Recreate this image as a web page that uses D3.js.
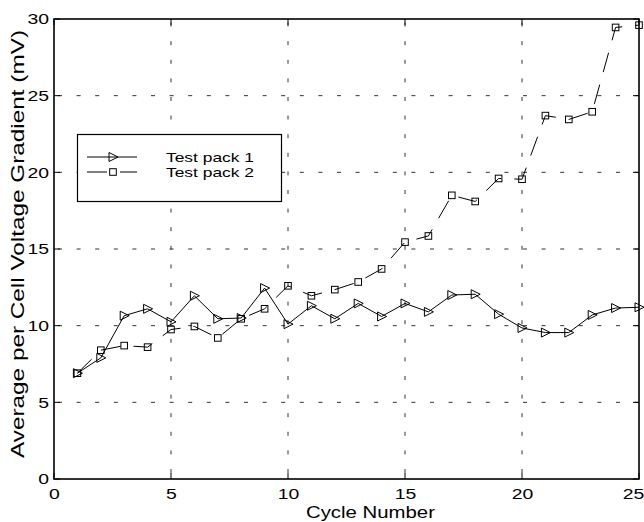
<!DOCTYPE html>
<html><head><meta charset="utf-8">
<script src="https://cdn.jsdelivr.net/npm/d3@7"></script>
<style>body{margin:0;background:#fff}svg{display:block}</style>
</head><body><svg id="c" width="644" height="522"></svg>
<script>
const cycles = [1,2,3,4,5,6,7,8,9,10,11,12,13,14,15,16,17,18,19,20,21,22,23,24,25];
const pack1 = [6.9,7.9,10.65,11.1,10.25,11.95,10.45,10.5,12.45,10.1,11.3,10.45,11.45,10.6,11.45,10.9,12.0,12.05,10.75,9.85,9.55,9.55,10.7,11.15,11.2];
const pack2 = [6.9,8.4,8.7,8.6,9.75,9.95,9.2,10.45,11.1,12.6,11.95,12.35,12.85,13.7,15.45,15.85,18.5,18.1,19.6,19.55,23.7,23.45,23.95,29.45,29.6];
const xTicks = [0,5,10,15,20,25];
const yTicks = [0,5,10,15,20,25,30];
const seriesNames = ["Test pack 1","Test pack 2"];
const xTitle = "Cycle Number";
const yTitle = "Average per Cell Voltage Gradient (mV)";

const L=54,R=639,T=19,B=479;
const svg=d3.select("#c");
const x=d3.scaleLinear().domain([0,25]).range([L,R]);
const y=d3.scaleLinear().domain([0,30]).range([B,T]);
const FONT="'Liberation Sans', Arial, Helvetica, sans-serif";
const SX=1.25;
function stretch(sel,k){sel.each(function(){const w=this.getComputedTextLength();this.setAttribute("textLength",w*k);this.setAttribute("lengthAdjust","spacingAndGlyphs");});}

// grid
const g=svg.append("g");
g.selectAll(".vg").data(xTicks.slice(1,-1)).join("line")
 .attr("x1",d=>x(d)).attr("x2",d=>x(d)).attr("y1",B).attr("y2",T)
 .attr("stroke","#333").attr("stroke-width",1).attr("stroke-dasharray","4,14.6").attr("stroke-dashoffset",-6);
g.selectAll(".hg").data(yTicks.slice(1,-1)).join("line")
 .attr("x1",L).attr("x2",R).attr("y1",d=>y(d)).attr("y2",d=>y(d))
 .attr("stroke","#333").attr("stroke-width",1).attr("stroke-dasharray","4,14.6").attr("stroke-dashoffset",-4);

// axes
const ax=svg.append("g").attr("transform",`translate(0,${B})`).call(d3.axisBottom(x).tickValues(xTicks).tickSize(0).tickPadding(9));
const ay=svg.append("g").attr("transform",`translate(${L},0)`).call(d3.axisLeft(y).tickValues(yTicks).tickSize(0).tickPadding(5));
[ax,ay].forEach(a=>{a.select(".domain").remove();a.selectAll("text").attr("font-family",FONT).attr("font-size",15.5).attr("fill","#000");});
stretch(ax.selectAll("text"),SX);stretch(ay.selectAll("text"),SX);
ax.selectAll("text").filter(d=>d===25).attr("x",-6);
// inward ticks
const tk=svg.append("g").attr("stroke","#000").attr("stroke-width",1);
xTicks.forEach(d=>{tk.append("line").attr("x1",x(d)).attr("x2",x(d)).attr("y1",B).attr("y2",B-6);tk.append("line").attr("x1",x(d)).attr("x2",x(d)).attr("y1",T).attr("y2",T+6);});
yTicks.forEach(d=>{tk.append("line").attr("y1",y(d)).attr("y2",y(d)).attr("x1",L).attr("x2",L+6);tk.append("line").attr("y1",y(d)).attr("y2",y(d)).attr("x1",R).attr("x2",R-6);});
svg.append("rect").attr("x",L).attr("y",T).attr("width",R-L).attr("height",B-T).attr("fill","none").attr("stroke","#000").attr("stroke-width",1.6);

// series
const data1=cycles.map((c,i)=>[c,pack1[i]]);
const data2=cycles.map((c,i)=>[c,pack2[i]]);
const line=d3.line().x(d=>x(d[0])).y(d=>y(d[1]));
svg.append("path").attr("d",line(data2)).attr("fill","none").attr("stroke","#000").attr("stroke-width",1).attr("stroke-dasharray","20,13");
svg.append("path").attr("d",line(data1)).attr("fill","none").attr("stroke","#000").attr("stroke-width",1);
const tri="M-4,-4.5L-4,4.5L5,0Z";
svg.append("g").selectAll("path").data(data1).join("path").attr("d",tri)
 .attr("transform",d=>`translate(${x(d[0])},${y(d[1])})`).attr("fill","none").attr("stroke","#000").attr("stroke-width",1);
svg.append("g").selectAll("rect").data(data2).join("rect")
 .attr("x",d=>x(d[0])-3.3).attr("y",d=>y(d[1])-3.3).attr("width",6.6).attr("height",6.6)
 .attr("fill","none").attr("stroke","#000").attr("stroke-width",1);

// titles
const xt=svg.append("text").attr("x",306).attr("y",518).attr("font-family",FONT).attr("font-size",16.3).text(xTitle);
stretch(xt,SX);
svg.append("text").attr("transform","translate(24,244) rotate(-90)").attr("text-anchor","middle")
 .attr("font-family",FONT).attr("font-size",18.5).attr("textLength",428).attr("lengthAdjust","spacingAndGlyphs").text(yTitle);

// legend
const lg=svg.append("g");
lg.append("rect").attr("x",77.5).attr("y",134.5).attr("width",204).attr("height",67).attr("fill","#fff").attr("stroke","#000").attr("stroke-width",1.2);
const rows=[157,172];
seriesNames.forEach((n,i)=>{
  const yy=rows[i];
  if(i===0){lg.append("line").attr("x1",87).attr("x2",137).attr("y1",yy).attr("y2",yy).attr("stroke","#000");
    lg.append("path").attr("d",tri).attr("transform",`translate(113,${yy})`).attr("fill","none").attr("stroke","#000");}
  else{lg.append("line").attr("x1",87).attr("x2",137).attr("y1",yy).attr("y2",yy).attr("stroke","#000").attr("stroke-dasharray","20,13");
    lg.append("rect").attr("x",113-3.3).attr("y",yy-3.3).attr("width",6.6).attr("height",6.6).attr("fill","none").attr("stroke","#000");}
  lg.append("text").attr("x",166).attr("y",yy+5).attr("font-family",FONT).attr("font-size",13.5)
   .attr("textLength",88).attr("lengthAdjust","spacingAndGlyphs").text(n);
});
</script></body></html>
